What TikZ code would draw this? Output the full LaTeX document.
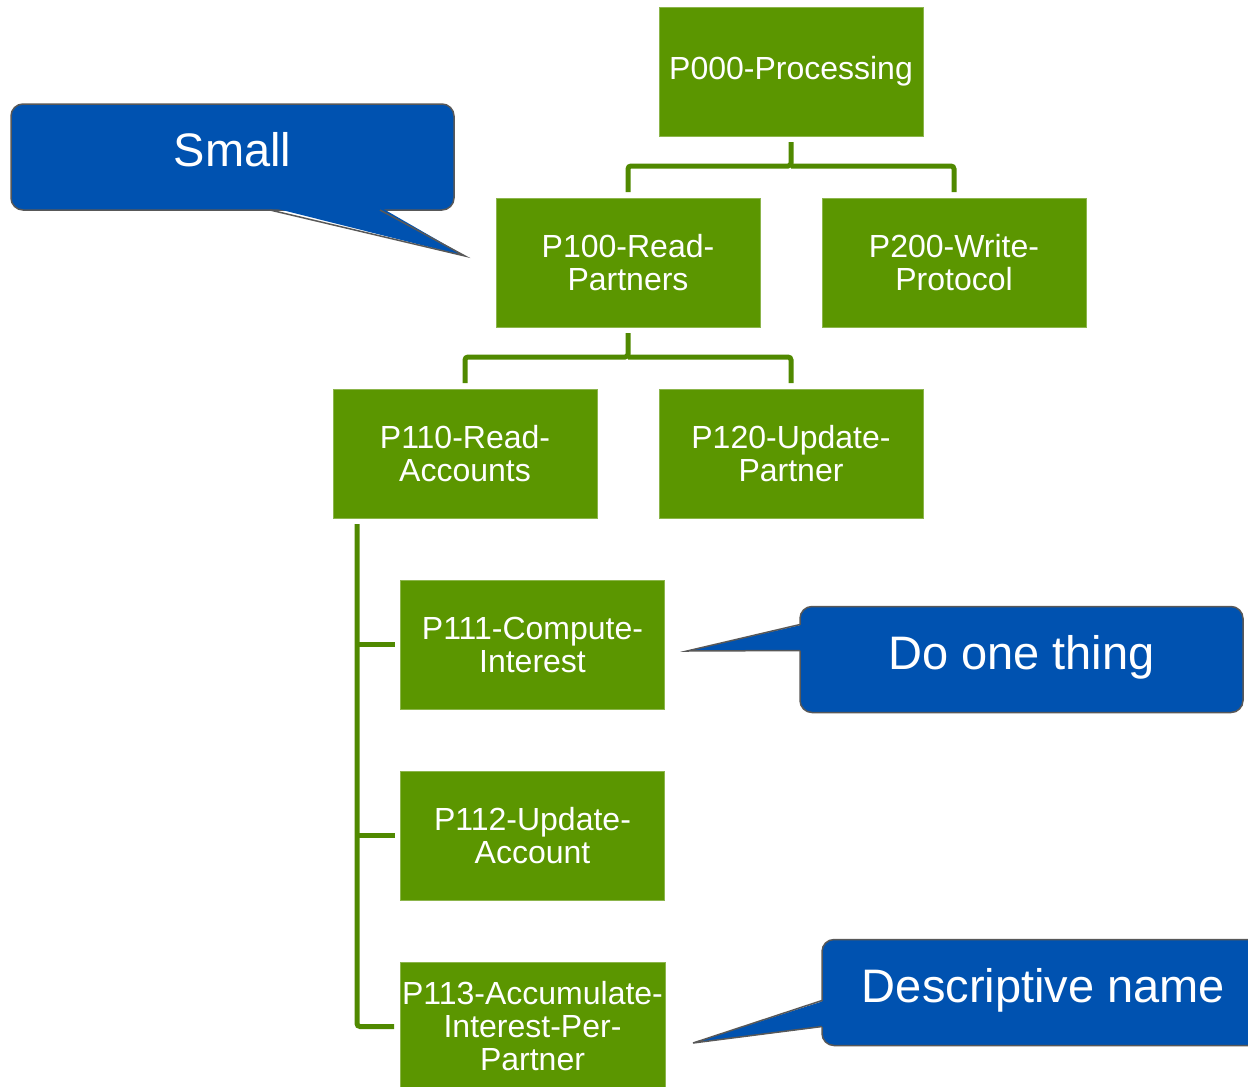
\documentclass[tikz,border=0pt]{standalone}
\usepackage{fontspec}
\setmainfont{Liberation Sans}
\usepackage{tikz}
\usetikzlibrary{positioning,calc}
\definecolor{boxgreen}{RGB}{91,150,0}
\definecolor{linkgreen}{RGB}{80,137,0}
\definecolor{noteblue}{RGB}{0,82,176}
\definecolor{notegray}{RGB}{88,88,88}

\begin{document}
\begin{tikzpicture}[
            x=1pt, y=-1pt,
            node distance=62pt,
            box/.style={rectangle, draw=boxgreen!70!white, line width=0.8pt,
                        fill=boxgreen, text=white, outer sep=0pt,
                        minimum width=264pt, minimum height=129pt, inner sep=2pt,
                        align=center, font=\fontsize{32}{33}\selectfont},
            link/.style={draw=linkgreen, line width=5pt, rounded corners=3pt},
            note/.style={rectangle, rounded corners=12pt, draw=notegray, line width=1.5pt,
                        fill=noteblue, text=white, outer sep=0pt,
                        minimum width=443pt, minimum height=106pt, inner sep=0pt,
                        text height=34pt, text depth=14.4pt,
                        font=\fontsize{47}{56}\selectfont},
            pointer/.style={draw=notegray, line width=1.5pt}
        ]
            \useasboundingbox (0,0) rectangle (1248,1087);
            \clip (0,0) rectangle (1248,1087);

            \node[box] (p000) at (791,71.5) {P000-Processing};
            \node[box, below=of p000, xshift=-163pt] (p100) {P100-Read-\\Partners};
            \node[box, right=of p100] (p200) {P200-Write-\\Protocol};
            \node[box, below=of p100, xshift=-163pt] (p110) {P110-Read-\\Accounts};
            \node[box, right=of p110] (p120) {P120-Update-\\Partner};
            \node[box, below=of p110, xshift=67.5pt] (p111) {P111-Compute-\\Interest};
            \node[box, below=of p111] (p112) {P112-Update-\\Account};
            \node[box, below=of p112] (p113) {P113-Accumulate-\\Interest-Per-\\Partner};

            \draw[link] ([yshift=-6pt]p000.south) -- ([yshift=-30pt]p000.south) -| ([yshift=6pt]p100.north);
            \draw[link] ([yshift=-30pt]p000.south) -| ([yshift=6pt]p200.north);
            \draw[link] ([yshift=-6pt]p100.south) -- ([yshift=-30pt]p100.south) -| ([yshift=6pt]p110.north);
            \draw[link] ([yshift=-30pt]p100.south) -| ([yshift=6pt]p120.north);
            \draw[link] ([xshift=24pt,yshift=-6pt]p110.south west) |- ([xshift=-6pt]p113.west);
            \draw[link] ([xshift=24pt]p110.south west |- p111.west) -- ([xshift=-6pt]p111.west);
            \draw[link] ([xshift=24pt]p110.south west |- p112.west) -- ([xshift=-6pt]p112.west);

            % callouts
            \node[note] (small) at (232.5,157) {Small};
            \coordinate (smalltip) at (465,256);
            \fill[noteblue] ([xshift=259pt,yshift=3pt]small.south west) -- (smalltip)
                -- ([xshift=369pt,yshift=3pt]small.south west) -- cycle;
            \draw[pointer] ([xshift=259pt]small.south west) -- (smalltip) -- ([xshift=369pt]small.south west);

            \node[note] (one) at (1021.5,659.5) {Do one thing};
            \coordinate (onetip) at (687,651);
            \fill[noteblue] ([xshift=3pt,yshift=-18pt]one.north west) -- (onetip)
                -- ([xshift=3pt,yshift=-44pt]one.north west) -- cycle;
            \draw[pointer] ([yshift=-18pt]one.north west) -- (onetip) -- ([yshift=-44pt]one.north west);

            \node[note] (name) at (1043.5,992.5) {Descriptive name};
            \coordinate (nametip) at (693,1043);
            \fill[noteblue] ([xshift=3pt,yshift=-61pt]name.north west) -- (nametip)
                -- ([xshift=3pt,yshift=-87pt]name.north west) -- cycle;
            \draw[pointer] ([yshift=-61pt]name.north west) -- (nametip) -- ([yshift=-87pt]name.north west);
        \end{tikzpicture}
\end{document}
